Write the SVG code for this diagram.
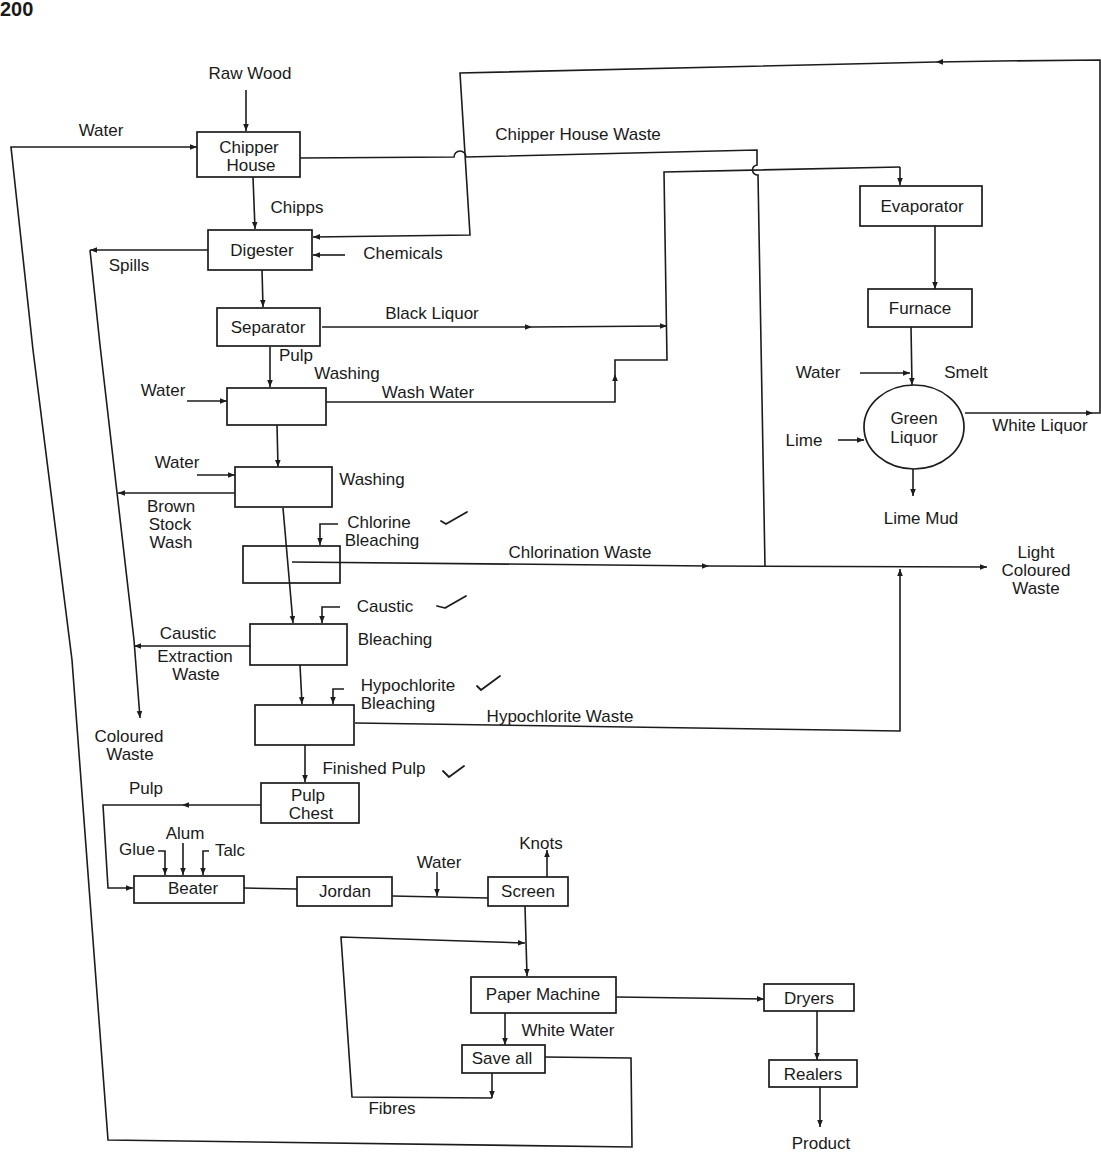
<svg xmlns="http://www.w3.org/2000/svg" width="1101" height="1154" viewBox="0 0 1101 1154">
<defs>
<style>
.bx{fill:none;stroke:#1c1c1c;stroke-width:1.7}
.ln{fill:none;stroke:#1c1c1c;stroke-width:1.6}
.ar{fill:none;stroke:#1c1c1c;stroke-width:1.6;marker-end:url(#ah)}
.t{font-family:"Liberation Sans",Arial,sans-serif;font-size:17px;fill:#1a1a1a;text-anchor:middle}
.tk{fill:none;stroke:#1c1c1c;stroke-width:1.8;stroke-linecap:round;stroke-linejoin:round}
</style>
<marker id="ah" viewBox="0 0 10 10" refX="10" refY="5" markerWidth="7" markerHeight="7" markerUnits="userSpaceOnUse" orient="auto">
<path d="M0,1 L10,5 L0,9 z" fill="#1c1c1c"/>
</marker>
</defs>
<rect width="1101" height="1154" fill="#ffffff"/>
<text x="0" y="16" style="font-family:'Liberation Sans',Arial,sans-serif;font-size:20px;font-weight:bold;fill:#1a1a1a">200</text>

<g id="connectors">
<path class="ar" d="M246,90 L246,131"/>
<path class="ar" d="M545,1057 L631,1058 L632,1147 L108,1140 L90,900 L72,660 L33,350 L11,147 L197,147"/>
<path class="ar" d="M253,177 L255,229"/>
<path class="ln" d="M300,158 L454,157 A6,6 0 0 1 466,157 L757,150 L757,165 A5,5 0 0 0 758,175 L765,567"/>
<path class="ar" d="M965,413 L1093,413"/>
<path class="ln" d="M1093,413 L1100,413 L1100,60 L1000,61"/>
<path class="ar" d="M1000,61 L936,62"/>
<path class="ar" d="M936,62 L460,73 L470,235 L313,237"/>
<path class="ar" d="M345,255 L313,255"/>
<path class="ar" d="M208,250 L90,250"/>
<path class="ar" d="M90,250 L100,345 L134,640 L140,718"/>
<path class="ar" d="M262,270 L263,307"/>
<path class="ar" d="M322,327 L532,327"/>
<path class="ar" d="M532,327 L667,326"/>
<path class="ar" d="M326,402 L615,402 L615,374"/>
<path class="ln" d="M615,374 L615,360 L667,360 L664,172 L900,167"/>
<path class="ar" d="M900,167 L900,185"/>
<path class="ar" d="M935,226 L935,289"/>
<path class="ar" d="M911,327 L912,385"/>
<path class="ar" d="M860,373 L910,373"/>
<path class="ar" d="M838,440 L864,440"/>
<path class="ar" d="M913,469 L913,496"/>
<path class="ar" d="M270,347 L270,387"/>
<path class="ar" d="M187,401 L227,401"/>
<path class="ar" d="M277,425 L278,467"/>
<path class="ar" d="M197,475 L235,475"/>
<path class="ar" d="M235,493 L118,493"/>
<path class="ar" d="M283,508 L293,623"/>
<path class="ar" d="M338,524 L320,524 L320,545"/>
<path class="ar" d="M292,562 L709,566"/>
<path class="ar" d="M709,566 L987,567"/>
<path class="ar" d="M340,607 L322,607 L322,623"/>
<path class="ar" d="M251,646 L134,646"/>
<path class="ar" d="M300,665 L302,704"/>
<path class="ar" d="M344,689 L333,689 L333,704"/>
<path class="ar" d="M355,723 L900,731 L900,569"/>
<path class="ar" d="M305,745 L305,782"/>
<path class="ar" d="M261,805 L182,805"/>
<path class="ar" d="M182,805 L103,805 L108,888 L133,888"/>
<path class="ar" d="M158,851 L165,851 L165,875"/>
<path class="ar" d="M183,843 L183,875"/>
<path class="ar" d="M209,851 L203,851 L203,875"/>
<path class="ln" d="M244,888 L297,889"/>
<path class="ln" d="M392,896 L488,898"/>
<path class="ar" d="M437,872 L437,896"/>
<path class="ar" d="M547,877 L547,850"/>
<path class="ar" d="M525,906 L527,976"/>
<path class="ar" d="M492,1073 L492,1098"/>
<path class="ar" d="M492,1098 L352,1097 L341,937 L525,943"/>
<path class="ar" d="M505,1013 L505,1045"/>
<path class="ar" d="M616,997 L764,999"/>
<path class="ar" d="M817,1011 L817,1060"/>
<path class="ar" d="M820,1087 L820,1127"/>
</g>

<g id="chipper-house"><rect class="bx" x="197" y="132" width="103" height="45"/><text class="t" x="249" y="153">Chipper</text><text class="t" x="251" y="171">House</text></g>
<g id="digester"><rect class="bx" x="208" y="230" width="104" height="40"/><text class="t" x="262" y="256">Digester</text></g>
<g id="separator"><rect class="bx" x="217" y="308" width="103" height="38"/><text class="t" x="268" y="333">Separator</text></g>
<g id="wash1"><rect class="bx" x="227" y="388" width="99" height="37"/></g>
<g id="wash2"><rect class="bx" x="235" y="467" width="97" height="40"/></g>
<g id="chlorine-box"><rect class="bx" x="243" y="546" width="97" height="37"/></g>
<g id="caustic-box"><rect class="bx" x="250" y="624" width="97" height="41"/></g>
<g id="hypo-box"><rect class="bx" x="255" y="705" width="99" height="40"/></g>
<g id="pulp-chest"><rect class="bx" x="261" y="783" width="98" height="40"/><text class="t" x="308" y="801">Pulp</text><text class="t" x="311" y="819">Chest</text></g>
<g id="beater"><rect class="bx" x="134" y="876" width="110" height="27"/><text class="t" x="193" y="894">Beater</text></g>
<g id="jordan"><rect class="bx" x="297" y="877" width="95" height="29"/><text class="t" x="345" y="897">Jordan</text></g>
<g id="screen"><rect class="bx" x="488" y="877" width="80" height="29"/><text class="t" x="528" y="897">Screen</text></g>
<g id="paper-machine"><rect class="bx" x="471" y="977" width="145" height="36"/><text class="t" x="543" y="1000">Paper Machine</text></g>
<g id="save-all"><rect class="bx" x="462" y="1045" width="83" height="28"/><text class="t" x="502" y="1064">Save all</text></g>
<g id="dryers"><rect class="bx" x="764" y="984" width="90" height="27"/><text class="t" x="809" y="1004">Dryers</text></g>
<g id="realers"><rect class="bx" x="769" y="1060" width="88" height="27"/><text class="t" x="813" y="1080">Realers</text></g>
<g id="evaporator"><rect class="bx" x="860" y="186" width="122" height="40"/><text class="t" x="922" y="212">Evaporator</text></g>
<g id="furnace"><rect class="bx" x="868" y="289" width="104" height="38"/><text class="t" x="920" y="314">Furnace</text></g>
<g id="green-liquor"><ellipse class="bx" cx="914" cy="427" rx="50" ry="42"/><text class="t" x="914" y="424">Green</text><text class="t" x="914" y="443">Liquor</text></g>

<g id="labels">
<text class="t" x="250" y="79">Raw Wood</text>
<text class="t" x="101" y="136">Water</text>
<text class="t" x="578" y="140">Chipper House Waste</text>
<text class="t" x="297" y="213">Chipps</text>
<text class="t" x="403" y="259">Chemicals</text>
<text class="t" x="129" y="271">Spills</text>
<text class="t" x="432" y="319">Black Liquor</text>
<text class="t" x="296" y="361">Pulp</text>
<text class="t" x="347" y="379">Washing</text>
<text class="t" x="163" y="396">Water</text>
<text class="t" x="428" y="398">Wash Water</text>
<text class="t" x="177" y="468">Water</text>
<text class="t" x="372" y="485">Washing</text>
<text class="t" x="171" y="512">Brown</text>
<text class="t" x="170" y="530">Stock</text>
<text class="t" x="171" y="548">Wash</text>
<text class="t" x="379" y="528">Chlorine</text>
<text class="t" x="382" y="546">Bleaching</text>
<text class="t" x="580" y="558">Chlorination Waste</text>
<text class="t" x="385" y="612">Caustic</text>
<text class="t" x="188" y="639">Caustic</text>
<text class="t" x="195" y="662">Extraction</text>
<text class="t" x="196" y="680">Waste</text>
<text class="t" x="395" y="645">Bleaching</text>
<text class="t" x="408" y="691">Hypochlorite</text>
<text class="t" x="398" y="709">Bleaching</text>
<text class="t" x="560" y="722">Hypochlorite Waste</text>
<text class="t" x="129" y="742">Coloured</text>
<text class="t" x="130" y="760">Waste</text>
<text class="t" x="374" y="774">Finished Pulp</text>
<text class="t" x="146" y="794">Pulp</text>
<text class="t" x="185" y="839">Alum</text>
<text class="t" x="137" y="855">Glue</text>
<text class="t" x="230" y="856">Talc</text>
<text class="t" x="439" y="868">Water</text>
<text class="t" x="541" y="849">Knots</text>
<text class="t" x="568" y="1036">White Water</text>
<text class="t" x="821" y="1149">Product</text>
<text class="t" x="392" y="1114">Fibres</text>
<text class="t" x="818" y="378">Water</text>
<text class="t" x="966" y="378">Smelt</text>
<text class="t" x="804" y="446">Lime</text>
<text class="t" x="1040" y="431">White Liquor</text>
<text class="t" x="921" y="524">Lime Mud</text>
<text class="t" x="1036" y="558">Light</text>
<text class="t" x="1036" y="576">Coloured</text>
<text class="t" x="1036" y="594">Waste</text>
</g>

<g id="ticks">
<path class="tk" d="M441,521 L446,524 L467,512"/>
<path class="tk" d="M437,606 L445,608 L466,596"/>
<path class="tk" d="M477,686 L481,690 L500,676"/>
<path class="tk" d="M443,771 L449,777 L464,766"/>
</g>
</svg>
